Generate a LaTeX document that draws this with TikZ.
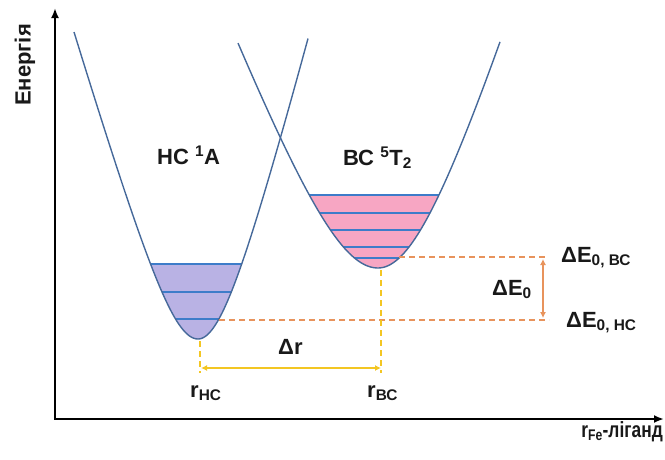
\documentclass[tikz,border=0pt]{standalone}
\usepackage{fontspec}
\setmainfont{Liberation Sans}
\usetikzlibrary{arrows.meta}
\definecolor{curvec}{HTML}{46699A}
\definecolor{lvl}{HTML}{3D7CC9}
\definecolor{lav}{HTML}{B9B2E4}
\definecolor{pinkf}{HTML}{F7A6C3}
\definecolor{orng}{HTML}{E8935C}
\definecolor{yel}{HTML}{F3C623}
\def\leftwell{plot[domain=-124:0,samples=60] ({198+\x},{339-3.4*(10*sqrt((\x/10)*(\x/10)+16)-40)}) -- plot[domain=0:110,samples=60] ({198+\x},{339-3.9*(10*sqrt((\x/10)*(\x/10)+16)-40)})}
\def\rightwell{plot[domain=-140:0,samples=60] ({378+\x},{268-2.6*(10*sqrt((\x/10)*(\x/10)+49)-70)}) -- plot[domain=0:122,samples=60] ({378+\x},{268-3.2*(10*sqrt((\x/10)*(\x/10)+49)-70)})}
\tikzset{
  lbl/.style={inner sep=0pt, text=black!90, font=\fontsize{22}{26}\selectfont\bfseries},
  curveline/.style={draw=curvec, line width=1.4pt},
  levelline/.style={draw=lvl, line width=1.7pt},
  odash/.style={draw=orng, line width=1.5pt, dash pattern=on 6pt off 4pt},
  ydash/.style={draw=yel, line width=1.3pt, dash pattern=on 6pt off 4pt},
}
\begin{document}
\begin{tikzpicture}[x=1pt,y=-1pt]
\useasboundingbox (0,0) rectangle (665,459);
% fills
\begin{scope}
\clip (0,264) rectangle (665,459);
\fill[lav] \leftwell -- cycle;
\end{scope}
\begin{scope}
\clip (0,195) rectangle (665,459);
\fill[pinkf] \rightwell -- cycle;
\end{scope}
% level lines
\begin{scope}
\clip \leftwell -- cycle;
\foreach \yy in {264,292,319} \draw[levelline] (100,\yy) -- (300,\yy);
\end{scope}
\begin{scope}
\clip \rightwell -- cycle;
\foreach \yy in {195,213,230,247,258} \draw[levelline] (280,\yy) -- (480,\yy);
\end{scope}
% curves
\draw[curveline] \leftwell;
\draw[curveline] \rightwell;
% guide coordinates
\coordinate (hcmin) at (200,341);
\coordinate (bcmin) at (381,270);
\coordinate (hcbot) at (200,373);
\coordinate (bcbot) at (381,373);
\coordinate (ra) at (201,368);
\coordinate (rb) at (381,368);
\coordinate (ebcL) at (399,257);
\coordinate (ebcR) at (547,257);
\coordinate (ehcL) at (219,320);
\coordinate (ehcR) at (549,320);
\coordinate (ea) at (543,259);
\coordinate (eb) at (543,318);
% dashed guides
\draw[odash] (ebcL) -- (ebcR);
\draw[odash] (ehcL) -- (ehcR);
\draw[ydash] (hcmin) -- (hcbot);
\draw[ydash] (bcmin) -- (bcbot);
\draw[draw=yel, line width=1.3pt, {Latex[length=6pt,width=6pt]}-{Latex[length=6pt,width=6pt]}] (ra) -- (rb);
\draw[draw=orng, line width=1.1pt, {Latex[length=6pt,width=6pt]}-{Latex[length=6pt,width=6pt]}] (ea) -- (eb);
% axes
\coordinate (ytop) at (55,8);
\coordinate (origin) at (55,419);
\coordinate (xend) at (664,419);
\draw[line width=2.8pt, line join=miter, {Latex[length=10pt,width=8pt]}-{Latex[length=10pt,width=8pt]}] (ytop) -- (origin) -- (xend);
% labels
\node[lbl, rotate=90] (en) at (25,65) {Енергія};
\node[lbl, anchor=base west] (hc) at (157,164) {НС \textsuperscript{1}А};
\node[lbl, anchor=base west] (bc) at (343,165) {ВС \textsuperscript{5}Т\textsubscript{2}};
\node[lbl, anchor=base west] (ebc) at (561,262) {ΔЕ\textsubscript{0, ВС}};
\node[lbl, anchor=base west] (e0) at (492,295) {ΔЕ\textsubscript{0}};
\node[lbl, anchor=base west] (ehc) at (566,327) {ΔЕ\textsubscript{0, НС}};
\node[lbl, anchor=base west] (dr) at (278,354) {Δr};
\node[lbl, anchor=base west] (rhc) at (190,397) {r\textsubscript{НС}};
\node[lbl, anchor=base west] (rbc) at (367,397) {r\textsubscript{ВС}};
\node[lbl, anchor=base east] (rfe) at (663,437) {\scalebox{0.79}[1]{r\textsubscript{Fe}-ліганд}};
\end{tikzpicture}
\end{document}
